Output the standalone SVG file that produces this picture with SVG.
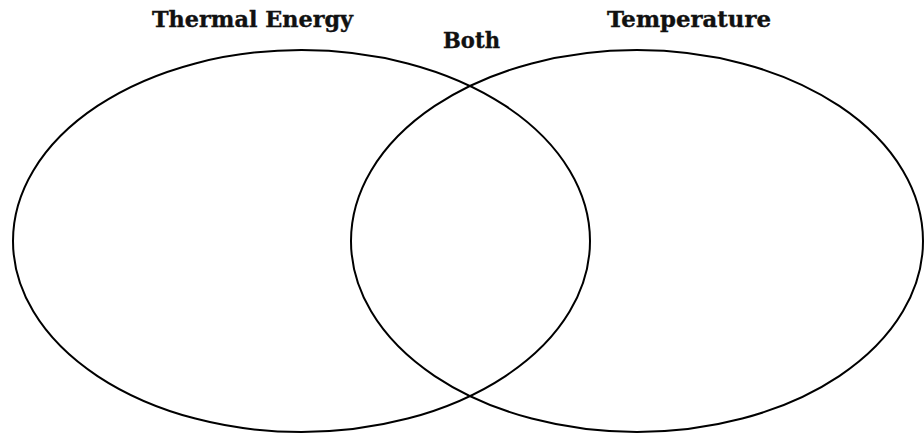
<svg xmlns="http://www.w3.org/2000/svg" width="924" height="436" viewBox="0 0 924 436">
<style>
.c{fill:none;stroke:#000;stroke-width:2}
.t{font-family:"DejaVu Serif","Liberation Serif",serif;font-weight:bold;font-size:23px;fill:#111;stroke:#111;stroke-width:0.4}
</style>
<rect width="924" height="436" fill="#fff"/>
<g id="thermal"><ellipse class="c" cx="301.5" cy="241" rx="288.5" ry="191"/><text class="t" x="152" y="27" textLength="201" lengthAdjust="spacingAndGlyphs">Thermal Energy</text></g>
<g id="temperature"><ellipse class="c" cx="637" cy="241" rx="286" ry="191"/><text class="t" x="607" y="27" textLength="164" lengthAdjust="spacingAndGlyphs">Temperature</text></g>
<g id="both"><text class="t" x="443" y="48" textLength="57" lengthAdjust="spacingAndGlyphs">Both</text></g>
<g id="connectors"/>
</svg>
